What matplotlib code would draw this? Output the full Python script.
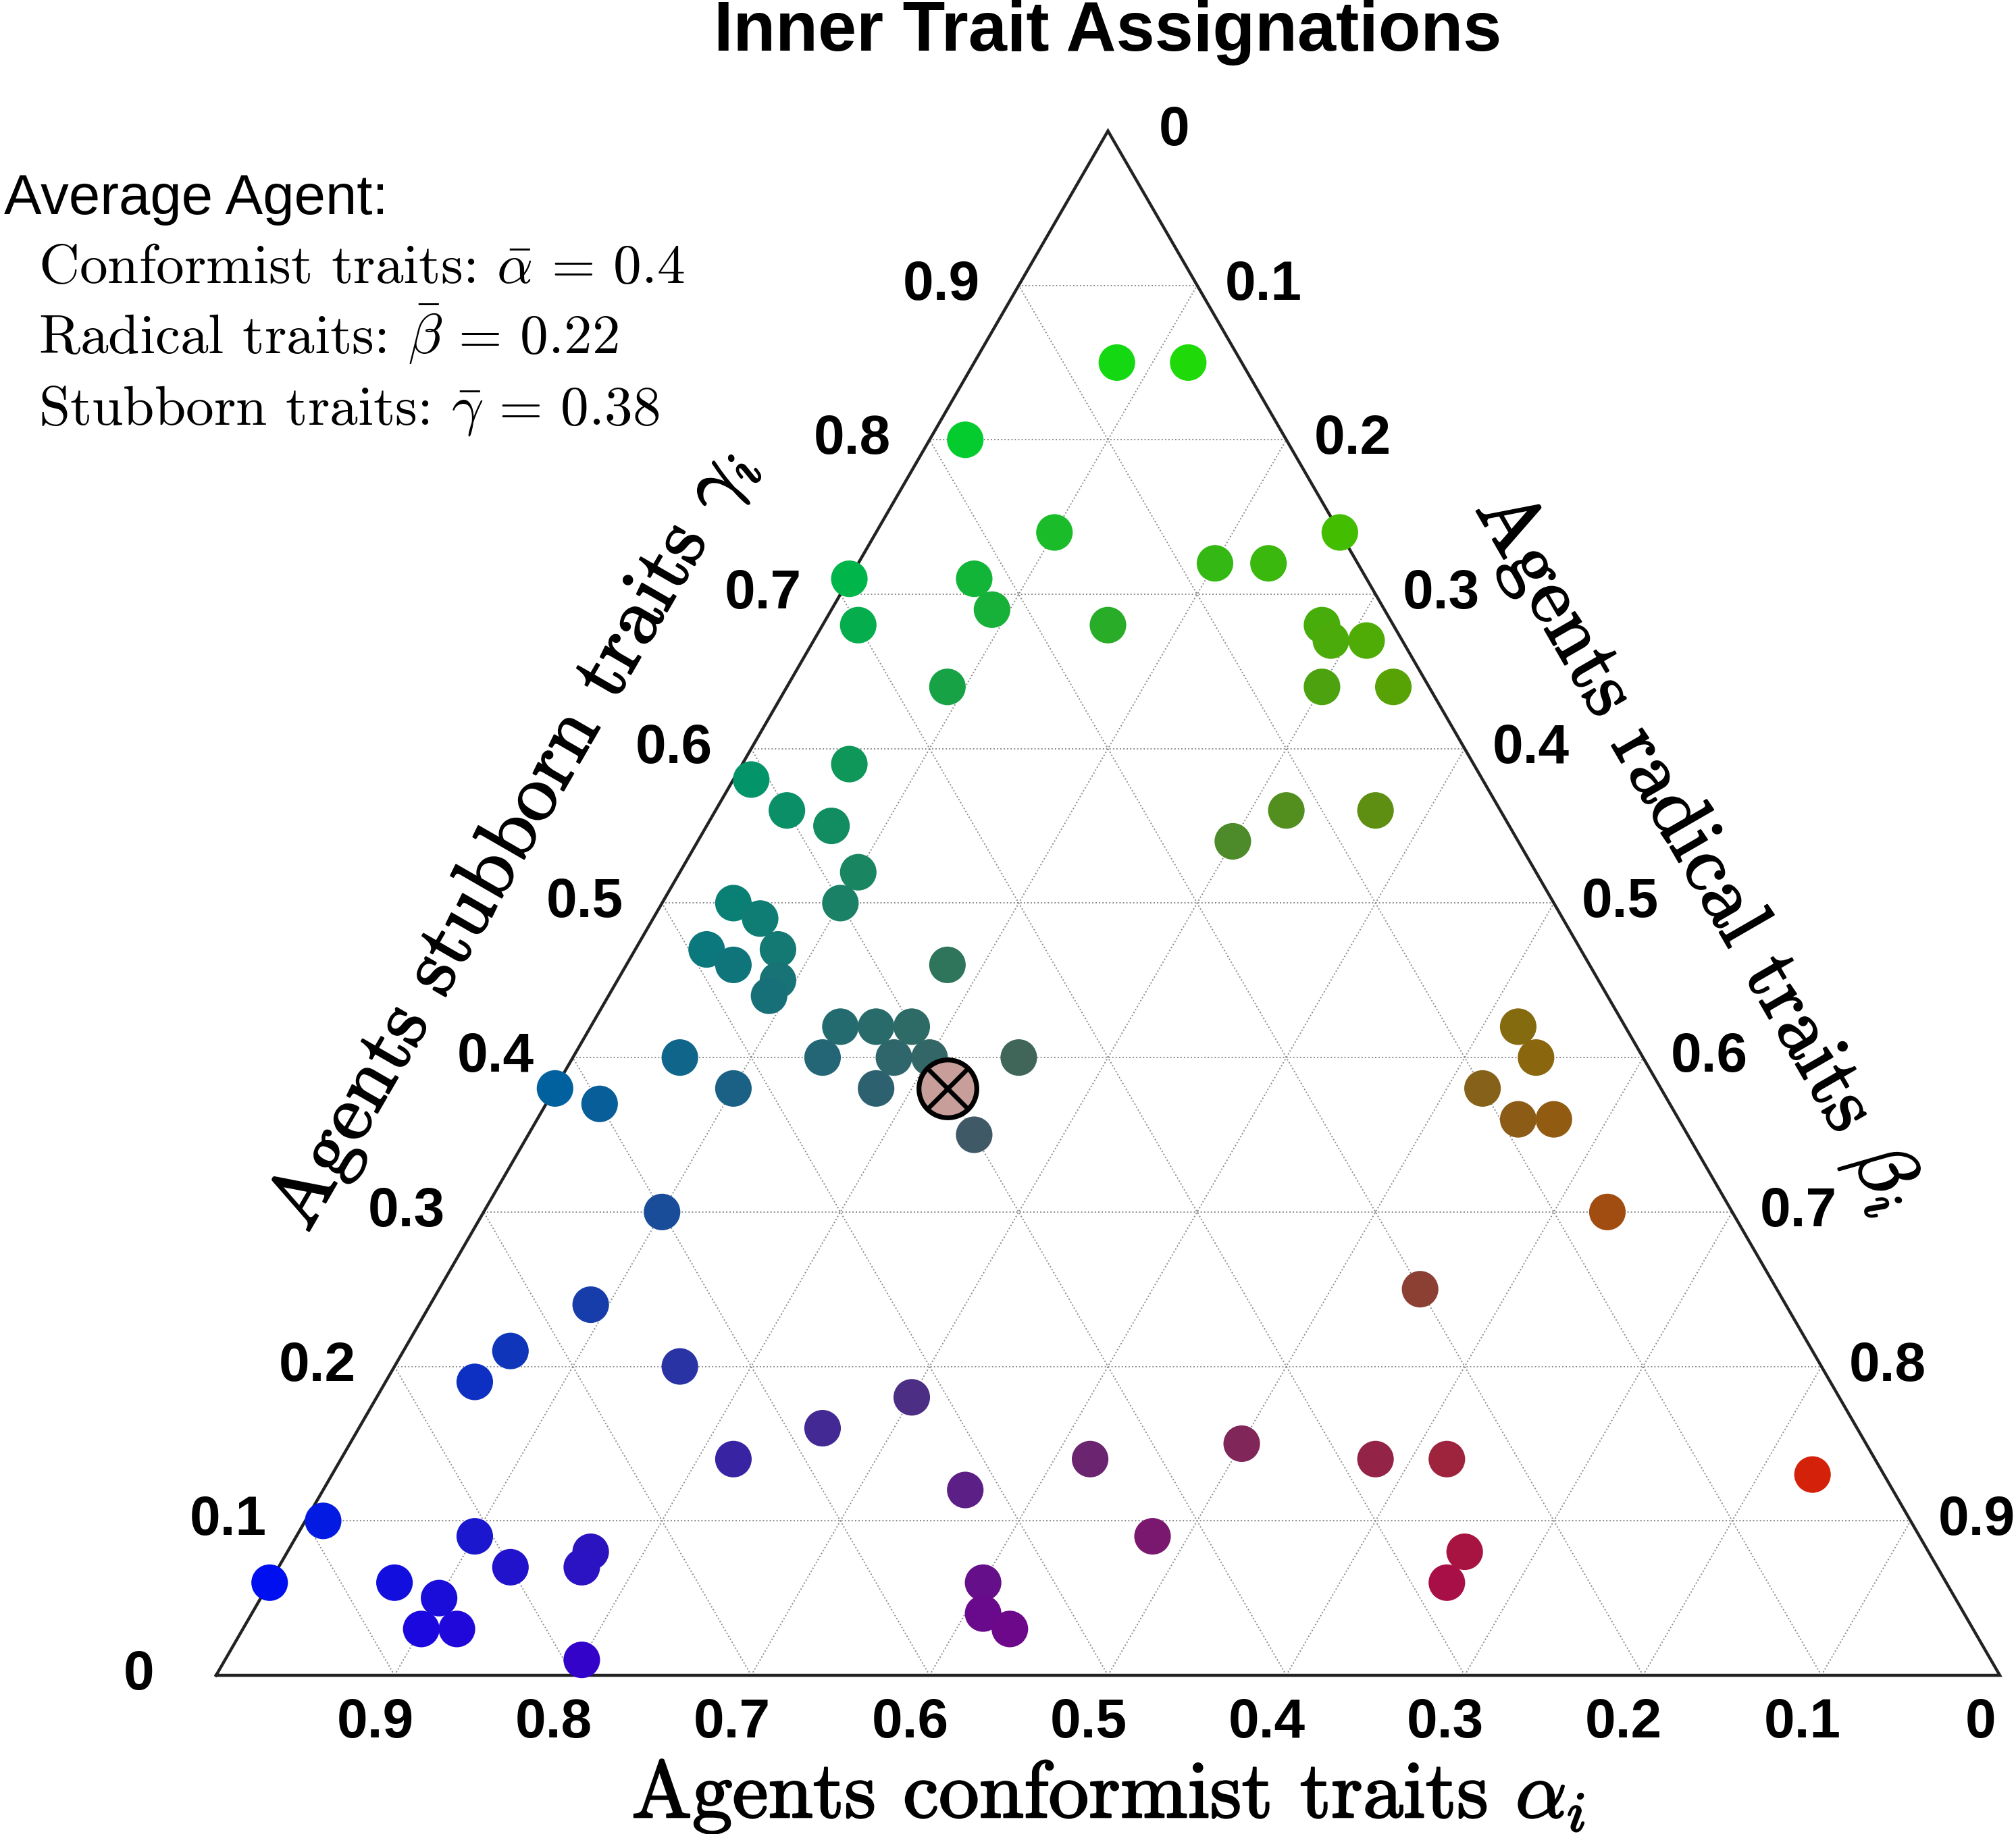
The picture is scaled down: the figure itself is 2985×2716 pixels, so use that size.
import numpy as np
import matplotlib
matplotlib.use("Agg")
import matplotlib.pyplot as plt
import matplotlib.patheffects as pe

plt.rcParams["mathtext.fontset"] = "cm"

# ── Agent traits ─────────────────────────────────────────────────────────────
# beta = radical trait, gamma = stubborn trait, alpha = 1 - beta - gamma
beta = [0.08, 0.12, 0.02, 0.10, 0.26, 0.20, 0.23, 0.00, 0.07, 0.09,
        0.02, 0.16, 0.28, 0.29, 0.31, 0.09, 0.30, 0.34, 0.06, 0.01,
        0.04, 0.07, 0.32, 0.37, 0.30, 0.10, 0.10, 0.04, 0.06, 0.04,
        0.08, 0.06, 0.18, 0.09, 0.09, 0.52, 0.14, 0.16, 0.18, 0.06,
        0.14, 0.18, 0.20, 0.25, 0.54, 0.00, 0.10, 0.18, 0.52, 0.03,
        0.25, 0.55, 0.57, 0.63, 0.10, 0.55, 0.09, 0.06, 0.16, 0.05,
        0.30, 0.26, 0.50, 0.22, 0.42, 0.58, 0.62, 0.83, 0.36, 0.01,
        0.48, 0.10, 0.17, 0.66, 0.13, 0.17, 0.00, 0.07, 0.40, 0.66,
        0.10, 0.41, 0.10, 0.12, 0.43, 0.20]
gamma = [0.85, 0.85, 0.80, 0.74, 0.74, 0.72, 0.72, 0.71, 0.71, 0.69,
         0.68, 0.68, 0.68, 0.67, 0.67, 0.64, 0.64, 0.64, 0.59, 0.58,
         0.56, 0.55, 0.56, 0.56, 0.54, 0.52, 0.50, 0.50, 0.49, 0.47,
         0.47, 0.46, 0.46, 0.45, 0.44, 0.42, 0.42, 0.42, 0.42, 0.40,
         0.40, 0.40, 0.40, 0.40, 0.40, 0.38, 0.38, 0.38, 0.38, 0.37,
         0.35, 0.36, 0.36, 0.30, 0.30, 0.25, 0.24, 0.21, 0.20, 0.19,
         0.18, 0.16, 0.15, 0.14, 0.14, 0.14, 0.14, 0.13, 0.12, 0.10,
         0.09, 0.09, 0.08, 0.08, 0.07, 0.07, 0.06, 0.06, 0.06, 0.06,
         0.05, 0.04, 0.03, 0.03, 0.03, 0.01]

avg_alpha, avg_beta, avg_gamma = 0.4, 0.22, 0.38

ticks = [0.0, 0.1, 0.2, 0.3, 0.4, 0.5, 0.6, 0.7, 0.8, 0.9]
tick_labels = ["0", "0.1", "0.2", "0.3", "0.4", "0.5", "0.6", "0.7", "0.8", "0.9"]

H = np.sqrt(3) / 2


def to_xy(b, g):
    b = np.asarray(b, dtype=float)
    g = np.asarray(g, dtype=float)
    return b + g / 2, g * H


# ── Figure ───────────────────────────────────────────────────────────────────
fig = plt.figure(figsize=(14.925, 13.58), dpi=200)
ax = fig.add_axes([0, 0, 1, 1])
ax.set_xlim(-0.12117, 1.00909)
ax.set_ylim(-0.08898, 0.93942)
ax.set_aspect("equal")
ax.axis("off")

# grid (dotted) for the three trait families
grid_kw = dict(color="#8a8a8a", lw=0.7, ls=(0, (1, 1.6)), zorder=1)
for k in ticks[1:]:
    # constant gamma: horizontal
    ax.plot([k / 2, 1 - k / 2], [k * H, k * H], **grid_kw)
    # constant beta: parallel to left edge
    ax.plot([k, (1 + k) / 2], [0, (1 - k) * H], **grid_kw)
    # constant alpha: parallel to right edge
    ax.plot([1 - k, (1 - k) / 2], [0, (1 - k) * H], **grid_kw)

# triangle outline
ax.plot([0, 1, 0.5, 0], [0, 0, H, 0], color="#222222", lw=1.6, zorder=2,
        solid_joinstyle="miter")

# agents, coloured by (radical, stubborn, conformist) as RGB
b = np.array(beta)
g = np.array(gamma)
a = 1 - b - g
colors = np.clip(np.column_stack([b, g, a]), 0, 1)
x, y = to_xy(b, g)
ax.scatter(x, y, s=380, c=colors, linewidths=0, zorder=3)

# average agent marker
ax_, ay_ = to_xy(avg_beta, avg_gamma)
avg_col = (1 - avg_beta, 1 - avg_gamma, 1 - avg_alpha)
ax.scatter([ax_], [ay_], s=950, facecolor=avg_col, edgecolor="black",
           linewidths=2.6, zorder=4)
ax.scatter([ax_], [ay_], s=470, marker="x", color="black",
           linewidths=2.4, zorder=5)

# ── Tick labels ──────────────────────────────────────────────────────────────
tick_kw = dict(fontsize=29.5, fontweight="bold", family="Liberation Sans",
               ha="center", va="center")
for t, lab in zip(ticks, tick_labels):
    # stubborn (left edge)
    ex, ey = to_xy(0, t)
    ax.text(ex - 0.0433, ey, lab, **tick_kw)
    # radical (right edge)
    ex, ey = to_xy(t, 1 - t)
    ax.text(ex + 0.0370, ey, lab, **tick_kw)
    # conformist (bottom edge)
    ax.text(1 - t - 0.0108, -0.0267, lab, **tick_kw)

# ── Axis labels ──────────────────────────────────────────────────────────────
heavy = [pe.withStroke(linewidth=0.9, foreground="black")]
lab_kw = dict(fontsize=43, family="cmr10", ha="center", va="center",
              path_effects=heavy)
ax.text(0.5002, -0.0680, r"Agents conformist traits $\alpha_i$", **lab_kw)
ax.text(0.1660, 0.4690, r"Agents stubborn traits $\gamma_i$",
        rotation=60, rotation_mode="anchor", **lab_kw)
ax.text(0.8300, 0.4620, r"Agents radical traits $\beta_i$",
        rotation=-60, rotation_mode="anchor", **lab_kw)

ax.text(0.5, 0.9212, "Inner Trait Assignations", fontsize=37,
        fontweight="bold", family="Liberation Sans", ha="center", va="center")

# ── Average agent text ───────────────────────────────────────────────────────
ax.text(-0.1189, 0.8277, "Average Agent:", fontsize=30,
        family="Liberation Sans", ha="left", va="center")
info_kw = dict(fontsize=30, family="cmr10", ha="left", va="baseline")
ax.text(-0.0996, 0.7808,
        r"Conformist traits: $\bar{\alpha}\,=\,%s$" % avg_alpha, **info_kw)
ax.text(-0.0996, 0.7410,
        r"Radical traits: $\bar{\beta}\,=\,%s$" % avg_beta, **info_kw)
ax.text(-0.0996, 0.7016,
        r"Stubborn traits: $\bar{\gamma}\,=\,%s$" % avg_gamma, **info_kw)

fig.savefig("out.png", dpi=200, facecolor="white")
plt.close(fig)
